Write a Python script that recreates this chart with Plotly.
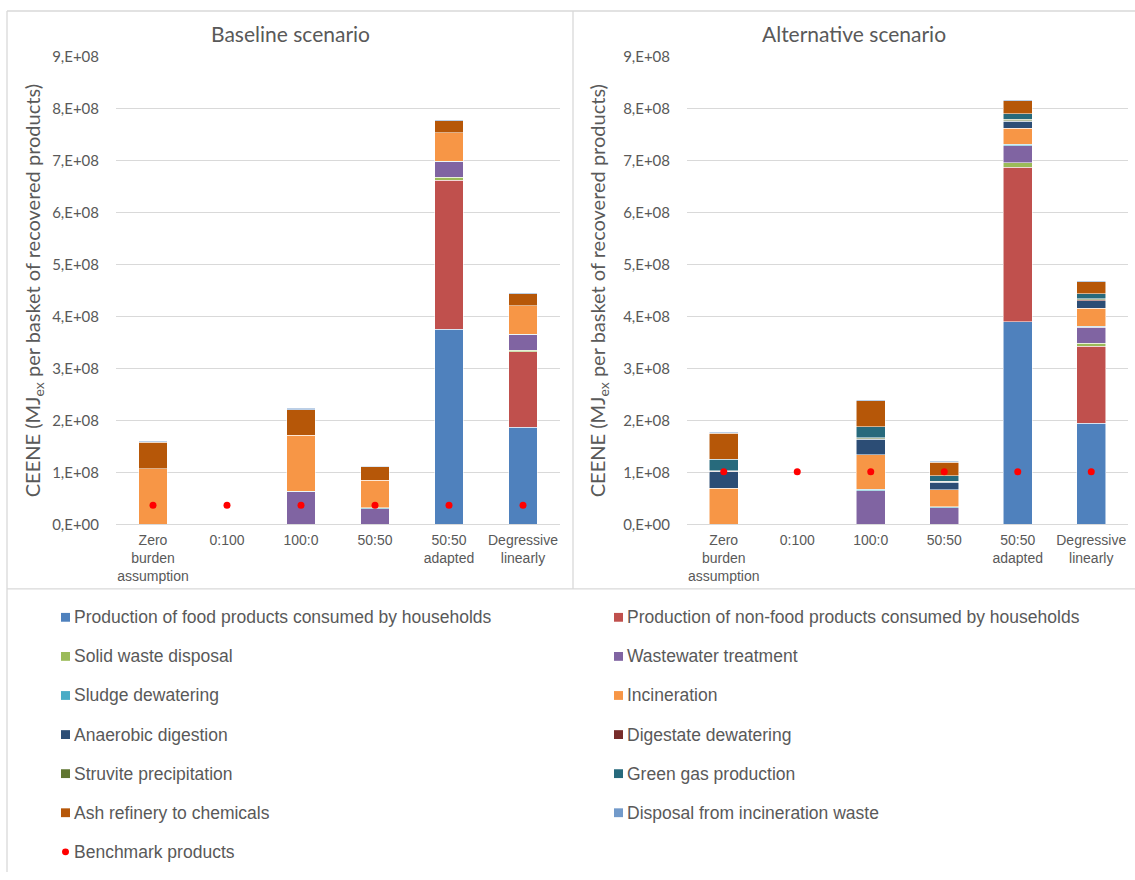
import plotly.graph_objects as go

W, H = 1135, 880

# ---------------------------------------------------------------- data
categories = ["Zero<br>burden<br>assumption", "0:100", "100:0", "50:50",
              "50:50<br>adapted", "Degressive<br>linearly"]

series_names = [
    "Production of food products consumed by households",
    "Production of non-food products consumed by households",
    "Solid waste disposal",
    "Wastewater treatment",
    "Sludge dewatering",
    "Incineration",
    "Anaerobic digestion",
    "Digestate dewatering",
    "Struvite precipitation",
    "Green gas production",
    "Ash refinery to chemicals",
    "Disposal from incineration waste",
]
series_colors = ["#4F81BD", "#C0504D", "#9BBB59", "#8064A2", "#4BACC6", "#F79646",
                 "#2C4D75", "#772C2A", "#5F7530", "#276A7C", "#B65708", "#729ACA"]
benchmark_name = "Benchmark products"

# Baseline scenario (MJex per basket of recovered products)
base_food         = [0, 0, 0, 0, 3.76e8, 1.87e8]
base_nonfood      = [0, 0, 0, 0, 2.87e8, 1.45e8]
base_solid_waste  = [0, 0, 0, 0, 0.05e8, 0.03e8]
base_wastewater   = [0, 0, 0.63e8, 0.30e8, 0.30e8, 0.30e8]
base_sludge_dew   = [0, 0, 0.01e8, 0.02e8, 0.01e8, 0.01e8]
base_incineration = [1.07e8, 0, 1.07e8, 0.53e8, 0.55e8, 0.55e8]
base_anaerobic    = [0, 0, 0, 0, 0, 0]
base_digestate    = [0, 0, 0, 0, 0, 0]
base_struvite     = [0, 0, 0, 0, 0, 0]
base_green_gas    = [0, 0, 0, 0, 0, 0]
base_ash_refinery = [0.51e8, 0, 0.50e8, 0.26e8, 0.23e8, 0.23e8]
base_disposal     = [0.02e8, 0, 0.02e8, 0.01e8, 0.02e8, 0.02e8]
base_benchmark    = [0.365e8] * 6

# Alternative scenario
alt_food          = [0, 0, 0, 0, 3.90e8, 1.95e8]
alt_nonfood       = [0, 0, 0, 0, 2.98e8, 1.48e8]
alt_solid_waste   = [0, 0, 0, 0, 0.08e8, 0.06e8]
alt_wastewater    = [0, 0, 0.65e8, 0.32e8, 0.33e8, 0.30e8]
alt_sludge_dew    = [0, 0, 0.02e8, 0.02e8, 0.03e8, 0.02e8]
alt_incineration  = [0.69e8, 0, 0.67e8, 0.32e8, 0.31e8, 0.35e8]
alt_anaerobic     = [0.32e8, 0, 0.30e8, 0.15e8, 0.13e8, 0.15e8]
alt_digestate     = [0.01e8, 0, 0.01e8, 0.01e8, 0.01e8, 0.01e8]
alt_struvite      = [0.01e8, 0, 0.02e8, 0.01e8, 0.03e8, 0.02e8]
alt_green_gas     = [0.22e8, 0, 0.21e8, 0.10e8, 0.11e8, 0.10e8]
alt_ash_refinery  = [0.50e8, 0, 0.50e8, 0.26e8, 0.25e8, 0.23e8]
alt_disposal      = [0.02e8, 0, 0.02e8, 0.02e8, 0.02e8, 0.02e8]
alt_benchmark     = [1.01e8] * 6

y_tick_values = [0, 1e8, 2e8, 3e8, 4e8, 5e8, 6e8, 7e8, 8e8, 9e8]
y_tick_labels = ["0,E+00", "1,E+08", "2,E+08", "3,E+08", "4,E+08",
                 "5,E+08", "6,E+08", "7,E+08", "8,E+08", "9,E+08"]

panel_titles = ["Baseline scenario", "Alternative scenario"]
y_title = "CEENE (MJ<sub>ex</sub> per basket of recovered products)"

baseline = [base_food, base_nonfood, base_solid_waste, base_wastewater, base_sludge_dew,
            base_incineration, base_anaerobic, base_digestate, base_struvite,
            base_green_gas, base_ash_refinery, base_disposal]
alternative = [alt_food, alt_nonfood, alt_solid_waste, alt_wastewater, alt_sludge_dew,
               alt_incineration, alt_anaerobic, alt_digestate, alt_struvite,
               alt_green_gas, alt_ash_refinery, alt_disposal]

# ---------------------------------------------------------------- styling
GREY_TEXT = "#595959"
GRID = "#D9D9D9"
CAL = "Lato, 'Open Sans', sans-serif"
ARIAL = "'Liberation Sans', Arial, sans-serif"


def px_x(x):
    return x / W


def px_y(y):
    return 1 - y / H


fig = go.Figure()

panels = [(baseline, base_benchmark, "x", "y"), (alternative, alt_benchmark, "x2", "y2")]
for stacks, bench, xa, ya in panels:
    for name, color, vals in zip(series_names, series_colors, stacks):
        fig.add_trace(go.Bar(
            x=categories, y=[v if v else None for v in vals], name=name,
            marker=dict(color=color, line=dict(color="rgba(255,255,255,0.75)", width=0.7)),
            xaxis=xa, yaxis=ya, showlegend=False,
        ))
    fig.add_trace(go.Scatter(
        x=categories, y=bench, name=benchmark_name, mode="markers",
        marker=dict(color="#FF0000", size=7), xaxis=xa, yaxis=ya, showlegend=False,
    ))

xaxis_common = dict(
    type="category", showgrid=False, showline=True, linecolor=GRID, linewidth=1,
    ticks="", tickfont=dict(family=ARIAL, size=14, color=GREY_TEXT),
    ticklabelstandoff=3, fixedrange=True, range=[-0.5, 5.5],
)


def y_axis(title_standoff):
    return dict(
        range=[0, 9e8], tickvals=y_tick_values, ticktext=y_tick_labels,
        showgrid=True, gridcolor=GRID, gridwidth=1, zeroline=False, showline=False,
        ticks="", tickfont=dict(family=CAL, size=15, color=GREY_TEXT),
        ticklabelstandoff=16,
        title=dict(text=y_title, font=dict(family=CAL, size=20, color=GREY_TEXT),
                   standoff=title_standoff),
    )


y_dom = [px_y(525), px_y(48)]
fig.update_layout(
    width=W, height=H, margin=dict(l=0, r=0, t=0, b=0),
    paper_bgcolor="white", plot_bgcolor="white",
    barmode="stack", bargap=0.61,
    xaxis=dict(domain=[px_x(116), px_x(560)], anchor="y", **xaxis_common),
    xaxis2=dict(domain=[px_x(687), px_x(1128)], anchor="y2", **xaxis_common),
    yaxis=dict(domain=y_dom, anchor="x", **y_axis(6)),
    yaxis2=dict(domain=y_dom, anchor="x2", **y_axis(12)),
    showlegend=False,
)

# panel titles
for title, cx in zip(panel_titles, [290, 854]):
    fig.add_annotation(text=title, x=px_x(cx), y=px_y(24), xref="paper", yref="paper",
                       showarrow=False, xanchor="center", yanchor="middle",
                       font=dict(family=CAL, size=21, color=GREY_TEXT))

# frame and separators (the frame continues past the right and bottom edges)
line_style = dict(color=GRID, width=1.3)
frame_top, frame_left, split_x, split_y = 1, 7, 573, 591
fig.add_shape(type="line", xref="paper", yref="paper", x0=px_x(frame_left), x1=1,
              y0=px_y(frame_top), y1=px_y(frame_top), line=line_style)
fig.add_shape(type="line", xref="paper", yref="paper", x0=px_x(frame_left), x1=px_x(frame_left),
              y0=0, y1=px_y(frame_top), line=line_style)
fig.add_shape(type="line", xref="paper", yref="paper", x0=px_x(split_x), x1=px_x(split_x),
              y0=px_y(split_y), y1=px_y(frame_top), line=line_style)
fig.add_shape(type="line", xref="paper", yref="paper", x0=px_x(frame_left), x1=1,
              y0=px_y(split_y), y1=px_y(split_y), line=line_style)

# legend: two columns, filled row by row
legend_entries = list(zip(series_names, series_colors)) + [(benchmark_name, "#FF0000")]
col_marker_x = [61, 614]
row_y0, row_step, box = 620, 39.9, 9
for i, (name, color) in enumerate(legend_entries):
    row, col = divmod(i, 2)
    cy = row_y0 + row * row_step
    mx = col_marker_x[col]
    if name == benchmark_name:
        fig.add_shape(type="circle", xref="paper", yref="paper",
                      x0=px_x(mx + 1), x1=px_x(mx + 8), y0=px_y(cy + 3.5), y1=px_y(cy - 3.5),
                      fillcolor=color, line=dict(width=0))
    else:
        fig.add_shape(type="rect", xref="paper", yref="paper",
                      x0=px_x(mx), x1=px_x(mx + box), y0=px_y(cy + box / 2), y1=px_y(cy - box / 2),
                      fillcolor=color, line=dict(width=0))
    fig.add_annotation(text=name, x=px_x(mx + box + 2), y=px_y(cy), xref="paper", yref="paper",
                       showarrow=False, xanchor="left", yanchor="middle",
                       font=dict(family=ARIAL, size=17.5, color=GREY_TEXT))

fig.write_html("out.html")
